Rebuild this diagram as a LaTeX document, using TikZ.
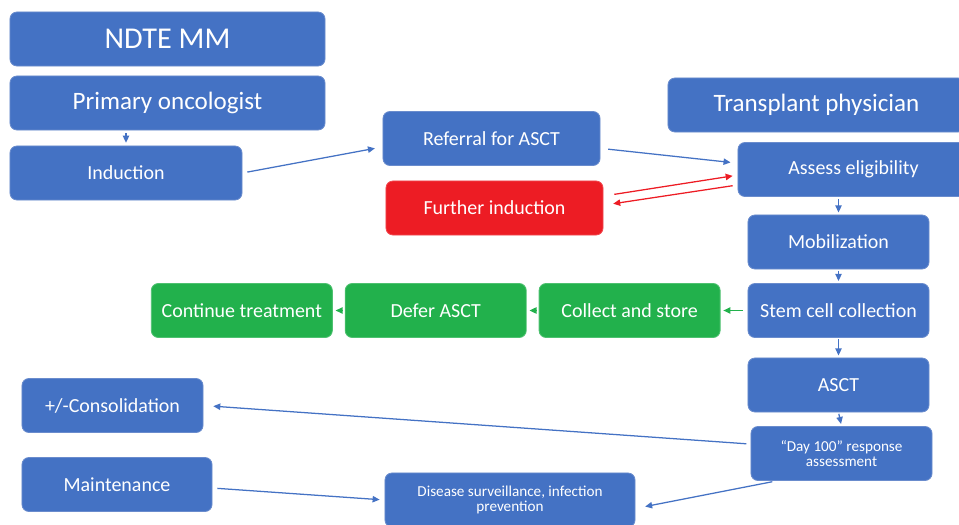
\documentclass[tikz,border=0pt]{standalone}
\usepackage{fontspec}
\setmainfont{Carlito}
\usepackage{xcolor}
\usepackage{tikz}
\usetikzlibrary{positioning,arrows.meta,calc}

\definecolor{boxblue}{HTML}{4472C4}
\definecolor{boxedge}{HTML}{6A8CCD}
\definecolor{boxred}{HTML}{ED1C24}
\definecolor{boxgreen}{HTML}{22B14C}

\tikzset{
  box/.style={rounded corners=5pt, fill=boxblue, draw=boxedge, line width=0.6pt,
    text=white, align=center, minimum height=1.35cm, inner sep=2pt,
    font=\fontsize{14.2}{17}\selectfont},
  redbox/.style={box, fill=boxred, draw=boxred!80!white},
  greenbox/.style={box, fill=boxgreen, draw=boxgreen!80!white},
  bigtext/.style={font=\fontsize{17.8}{21}\selectfont},
  smalltext/.style={font=\fontsize{10.8}{11.2}\selectfont},
  conn/.style={-{Triangle[length=5pt,width=4.5pt]}, line width=0.9pt, draw=boxblue},
}

\begin{document}
\begin{tikzpicture}[x=0.025cm,y=-0.025cm]
    % 1 unit = 1 px of the 959x525 sheet, y downwards
    \useasboundingbox (0,0) rectangle (959,525);
    \clip (0,0) rectangle (959,525);
    % left column: primary oncologist
    \node[box, minimum width=7.875cm, font=\fontsize{21.5}{25}\selectfont] (ndte) at (167.5,39) {NDTE MM};
    \node[box, bigtext, minimum width=7.875cm] (po) at (167.5,103) {Primary oncologist};
    \node[box, minimum width=5.8cm] (ind) at (126,173) {Induction};
    % middle
    \node[box, minimum width=5.425cm] (ref) at (491.5,138.5) {Referral for ASCT};
    \node[redbox, minimum width=5.425cm] (further) at (494.5,208) {Further induction};
    % right column: transplant physician
    \node[box, bigtext, minimum width=7.425cm] (tp) at (816.5,105) {Transplant physician};
    \node[box, minimum width=5.775cm] (assess) at (853.5,169.5) {Assess eligibility};
    \node[box, minimum width=4.525cm] (mob) at (838.5,242) {Mobilization};
    \node[box, minimum width=4.525cm] (stem) at (838.5,310.5) {Stem cell collection};
    \node[box, minimum width=4.525cm] (asct) at (838.5,385) {ASCT};
    \node[box, smalltext, minimum width=4.525cm] (day) at (841.5,453.5) {``Day 100'' response\\assessment};
    % green branch, right to left
    \node[greenbox, minimum width=4.525cm, left=0.675cm of stem] (collect) {Collect and store};
    \node[greenbox, minimum width=4.525cm, left=0.3cm of collect] (defer) {Defer ASCT};
    \node[greenbox, minimum width=4.525cm, left=0.3cm of defer] (cont) {Continue treatment};
    % after transplant
    \node[box, minimum width=4.525cm] (consol) at (112.5,405.5) {+/-Consolidation};
    \node[box, minimum width=4.75cm] (maint) at (117,484.5) {Maintenance};
    \node[box, smalltext, minimum width=6.25cm] (surv) at (510,500) {Disease surveillance, infection\\prevention};

    % connectors
    \draw[conn, shorten <=2pt, shorten >=2pt] (po.south -| ind.north) -- (ind.north);
    \draw[conn, shorten <=3.5pt, shorten >=5.5pt] (ind.east) -- ([yshift=-6pt]ref.west);
    \draw[conn, shorten <=5.5pt, shorten >=5pt] ([yshift=-7pt]ref.east) -- ([yshift=4.5pt]assess.west);
    \draw[conn, draw=boxred, shorten <=7.8pt, shorten >=3.5pt] ([yshift=8.5pt]further.east) -- ([yshift=-4pt]assess.west);
    \draw[conn, draw=boxred, shorten <=3.5pt, shorten >=7pt] ([yshift=-11pt]assess.west) -- ([yshift=2pt]further.east);
    \draw[conn, shorten <=1.5pt, shorten >=1.5pt] (assess.south -| mob.north) -- (mob.north);
    \draw[conn, shorten <=1pt, shorten >=1.5pt] (mob.south) -- (stem.north);
    \draw[conn, shorten <=1pt, shorten >=1.5pt] (stem.south) -- (asct.north);
    \draw[conn, shorten <=1pt, shorten >=1.5pt] (asct.south) -- (day.north);
    \draw[conn, draw=boxgreen, shorten <=3.5pt, shorten >=2pt] (stem.west) -- (collect.east);
    \draw[conn, draw=boxgreen, shorten <=2pt, shorten >=2pt] (collect.west) -- (defer.east);
    \draw[conn, draw=boxgreen, shorten <=2pt, shorten >=2pt] (defer.west) -- (cont.east);
    \draw[conn, shorten <=3pt, shorten >=7pt] ([yshift=6.7pt]day.west) -- (consol.east);
    \draw[conn, shorten <=3.5pt, shorten >=3.5pt] ([yshift=-2.5pt]maint.east) -- (surv.west);
    \draw[conn, shorten <=3pt, shorten >=7pt] ([xshift=18.4pt]day.south west) -- ([yshift=-6pt]surv.east);
\end{tikzpicture}
\end{document}
